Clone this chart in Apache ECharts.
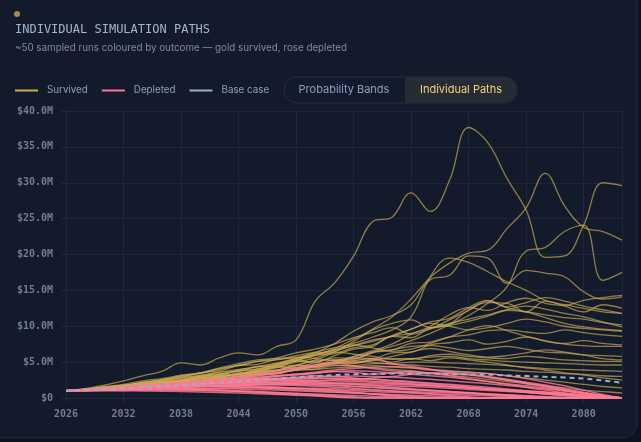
<!DOCTYPE html>
<html>
<head>
<meta charset="utf-8">
<script src="https://cdn.jsdelivr.net/npm/echarts@6/dist/echarts.min.js"></script>
<style>
  html, body { margin: 0; padding: 0; background: #0d1220; }
  #paths { width: 641px; height: 442px; }
</style>
</head>
<body>
<div id="paths"></div>
<script>
// sample years (every 2 years)
var years = [2026, 2028, 2030, 2032, 2034, 2036, 2038, 2040, 2042, 2044,
             2046, 2048, 2050, 2052, 2054, 2056, 2058, 2060, 2062, 2064,
             2066, 2068, 2070, 2072, 2074, 2076, 2078, 2080, 2082, 2084];

// portfolio value in $M, runs that survived
var survived = [
  [1.0,1.3,1.8,2.4,3.1,3.7,4.9,4.6,5.6,6.3,6.0,7.2,8.1,13.5,16.0,19.8,24.6,25.2,28.6,26.0,30.3,37.7,35.6,30.6,26.2,19.6,19.8,24.1,30.0,29.6],
  [1.0,1.1,1.25,1.45,1.65,1.9,2.15,2.4,2.7,3.0,3.4,3.9,4.5,5.3,6.4,7.9,9.6,11.3,13.8,16.8,18.8,20.2,20.6,23.6,26.5,31.3,26.8,23.8,23.2,22.0],
  [1.0,1.2,1.45,1.75,2.1,2.45,2.8,3.2,3.6,4.0,4.3,4.8,5.5,6.3,7.6,9.3,10.6,11.5,13.0,16.5,17.1,19.8,19.5,16.0,17.8,17.4,16.9,14.8,13.8,14.1],
  [1.0,1.15,1.3,1.5,1.7,1.9,2.15,2.4,2.7,3.0,3.3,3.6,4.0,4.5,5.0,5.7,6.4,7.2,8.0,9.0,10.2,11.5,13.2,15.5,20.5,21.0,23.2,24.1,16.4,17.5],
  [1.0,1.2,1.4,1.65,1.9,2.2,2.5,2.9,3.3,3.7,4.1,4.6,5.2,5.9,6.7,7.6,8.5,9.5,11.3,16.9,19.5,18.9,17.6,16.2,15.0,13.6,13.0,12.5,12.0,11.8],
  [1.0,1.15,1.35,1.5,1.8,1.9,2.3,2.5,3.0,3.2,3.9,4.2,5.3,6.0,6.9,8.2,9.5,10.4,10.9,9.8,10.3,12.3,13.3,13.2,12.0,13.5,12.8,12.0,13.0,12.5],
  [1.0,1.2,1.4,1.7,1.9,2.3,2.5,2.9,3.2,3.8,4.0,4.7,5.2,6.0,6.2,7.0,7.4,8.7,9.6,10.6,11.1,12.6,13.6,12.7,13.3,14.0,13.5,12.8,12.3,11.8],
  [1.0,1.15,1.4,1.6,1.9,2.1,2.5,2.9,3.4,3.2,3.7,4.6,5.3,5.0,5.9,6.8,7.2,8.6,8.4,9.8,10.1,10.7,11.4,12.3,12.8,12.4,11.8,11.3,10.6,9.9],
  [1.0,1.1,1.3,1.4,1.7,1.8,2.2,2.4,2.8,3.0,3.6,3.8,4.5,4.6,5.3,5.4,6.3,6.7,7.6,7.8,8.5,8.8,9.4,9.5,9.2,9.0,9.5,9.1,8.8,8.6],
  [1.0,1.2,1.3,1.6,1.8,2.2,2.3,2.8,2.9,3.5,3.6,4.3,4.2,4.9,4.8,5.6,5.5,6.3,6.4,7.4,7.7,8.1,7.5,7.9,8.5,7.9,7.6,8.0,7.6,7.4],
  [1.0,1.2,1.45,1.7,2.1,2.3,2.8,3.0,3.6,3.7,4.4,4.5,5.1,5.0,5.6,5.5,6.4,6.7,7.2,7.3,7.0,6.6,6.9,7.2,6.8,6.4,6.3,6.0,5.9,5.8],
  [1.0,1.1,1.25,1.35,1.6,1.7,2.0,2.2,2.6,2.7,3.3,3.4,4.1,4.2,4.8,4.9,5.4,5.5,5.4,5.9,6.1,5.8,5.6,5.5,5.8,5.6,5.3,5.2,5.1,5.1],
  [1.0,1.25,1.5,1.8,2.1,2.6,2.9,3.5,3.8,4.5,4.7,5.4,5.6,6.3,6.4,6.1,5.8,5.4,5.5,5.7,5.8,5.5,5.3,5.1,5.0,4.9,4.8,4.7,4.6,4.6],
  [1.0,1.1,1.3,1.4,1.7,1.8,2.1,2.2,2.6,2.8,3.3,3.4,3.9,4.0,4.5,4.5,4.8,4.8,5.0,5.0,4.9,4.8,4.7,4.5,4.3,4.1,4.0,3.9,3.8,3.7],
  [1.0,1.2,1.3,1.6,1.8,2.1,2.3,2.7,2.9,3.4,3.7,4.3,4.6,5.2,5.3,5.1,5.0,4.7,4.6,4.4,4.3,4.1,4.0,3.9,3.7,3.6,3.4,3.3,3.1,3.0],
  [1.0,1.1,1.3,1.4,1.7,1.8,2.2,2.4,2.8,3.0,3.4,3.5,3.9,4.0,4.2,4.3,4.5,4.3,4.2,4.0,3.8,3.6,3.4,3.1,2.8,2.5,2.2,1.9,1.6,1.4],
  [1.0,1.2,1.45,1.6,2.0,2.1,2.5,2.7,3.1,3.3,3.6,3.8,4.2,4.3,4.6,4.4,4.2,4.0,3.8,3.5,3.2,2.9,2.6,2.3,2.0,1.7,1.4,1.1,0.9,0.7],
  [1.0,1.1,1.25,1.35,1.55,1.7,1.95,2.1,2.5,2.7,3.1,3.4,4.0,4.4,5.1,5.8,6.6,7.5,8.9,10.0,11.6,12.6,12.2,13.3,13.9,13.2,12.9,13.6,14.0,14.3],
  [1.0,1.2,1.5,1.75,2.2,2.5,3.0,3.4,4.0,4.5,5.1,5.6,6.3,6.8,7.5,8.4,9.1,9.8,8.9,9.6,10.9,12.2,13.5,12.6,12.0,11.2,10.4,9.9,9.6,9.4],
  [1.0,1.25,1.6,1.9,2.4,2.7,3.2,3.5,4.1,4.6,5.1,5.3,5.9,6.4,7.0,7.4,7.0,6.5,6.8,7.6,8.5,9.5,10.1,9.4,8.6,8.0,7.5,7.3,7.2,7.2],
  [1.0,1.2,1.5,1.75,2.2,2.5,3.1,3.5,4.2,4.8,5.3,5.5,5.7,5.5,5.2,4.9,5.2,5.8,6.4,6.9,6.5,6.0,5.7,5.9,6.3,6.7,6.4,6.0,5.5,5.3],
  [1.0,1.1,1.35,1.5,1.8,2.0,2.4,2.7,3.1,3.4,4.0,4.4,5.0,5.6,6.5,7.3,8.1,8.6,9.6,10.4,10.0,9.5,9.8,10.4,11.0,10.6,10.0,9.7,9.5,9.3],
  [1.0,1.15,1.35,1.55,1.8,2.05,2.4,2.6,3.0,3.3,3.8,3.9,4.5,4.4,5.0,4.8,5.3,5.0,5.5,5.2,5.6,5.3,5.0,4.6,4.2,3.9,3.5,3.2,2.8,2.5],
  [1.0,1.2,1.4,1.7,1.9,2.3,2.6,3.1,3.3,3.9,4.4,4.9,5.5,6.1,6.7,7.3,7.9,8.6,9.0,9.7,10.4,11.0,11.6,12.2,12.0,11.6,11.2,11.0,10.5,10.2]
];

// runs that ran out of money
var depleted = [
  [1.0,1.1,1.25,1.4,1.6,1.8,2.0,2.2,2.5,2.8,3.1,3.5,3.9,4.4,4.9,5.2,5.5,4.8,4.4,4.0,3.6,3.3,2.9,2.5,2.0,1.6,1.1,0.7,0.3,0],
  [1.0,1.15,1.3,1.5,1.7,1.9,2.1,2.4,2.7,3.0,3.4,3.8,4.2,4.6,4.9,4.5,4.1,3.8,3.6,3.5,3.4,3.3,3.0,2.6,2.2,1.8,1.3,0.8,0.3,0],
  [1.0,1.1,1.2,1.35,1.5,1.65,1.8,2.0,2.2,2.4,2.7,3.0,3.2,3.4,3.7,3.6,3.3,3.5,3.7,3.4,3.1,2.7,2.3,1.9,1.5,1.1,0.7,0.3,0,0],
  [1.0,1.1,1.2,1.3,1.45,1.6,1.75,1.9,2.05,2.2,2.35,2.5,2.6,2.7,2.75,2.7,2.6,2.45,2.3,2.1,1.9,1.7,1.5,1.25,1.0,0.75,0.5,0.25,0.05,0],
  [1.0,1.05,1.1,1.2,1.3,1.4,1.5,1.6,1.7,1.75,1.8,1.8,1.75,1.65,1.5,1.35,1.15,0.95,0.75,0.55,0.35,0.15,0,0,0,0,0,0,0,0],
  [1.0,1.1,1.2,1.3,1.4,1.5,1.6,1.65,1.7,1.7,1.65,1.55,1.4,1.2,1.0,0.8,0.55,0.3,0.1,0,0,0,0,0,0,0,0,0,0,0],
  [1.0,1.05,1.1,1.15,1.2,1.2,1.2,1.15,1.1,1.0,0.9,0.75,0.6,0.45,0.3,0.15,0,0,0,0,0,0,0,0,0,0,0,0,0,0],
  [1.0,1.15,1.3,1.5,1.7,1.9,2.1,2.3,2.5,2.6,2.7,2.75,2.8,2.75,2.65,2.5,2.35,2.2,2.0,1.8,1.6,1.4,1.2,1.0,0.8,0.6,0.4,0.2,0.05,0],
  [1.0,1.1,1.2,1.35,1.5,1.65,1.8,1.95,2.1,2.2,2.3,2.4,2.45,2.45,2.4,2.3,2.2,2.05,1.9,1.75,1.6,1.45,1.3,1.15,1.0,0.85,0.65,0.45,0.2,0],
  [1.0,1.05,1.1,1.15,1.2,1.25,1.3,1.3,1.3,1.25,1.2,1.1,1.0,0.9,0.8,0.7,0.6,0.5,0.4,0.3,0.2,0.1,0,0,0,0,0,0,0,0],
  [1.0,1.1,1.2,1.3,1.4,1.5,1.55,1.6,1.6,1.55,1.5,1.45,1.4,1.35,1.3,1.2,1.1,1.0,0.9,0.8,0.7,0.6,0.5,0.4,0.3,0.2,0.1,0.03,0,0],
  [1.0,1.15,1.35,1.55,1.75,1.95,2.15,2.3,2.45,2.55,2.6,2.55,2.45,2.3,2.1,1.9,1.7,1.5,1.3,1.1,0.9,0.7,0.5,0.3,0.1,0,0,0,0,0],
  [1.0,1.0,1.0,1.0,0.98,0.95,0.9,0.85,0.78,0.7,0.6,0.5,0.4,0.3,0.2,0.1,0,0,0,0,0,0,0,0,0,0,0,0,0,0],
  [1.0,1.1,1.25,1.4,1.55,1.7,1.85,2.0,2.15,2.3,2.45,2.6,2.75,2.9,3.0,3.05,3.0,2.9,2.75,2.6,2.4,2.2,2.0,1.75,1.5,1.25,0.95,0.65,0.3,0],
  [1.0,1.05,1.1,1.2,1.3,1.4,1.5,1.6,1.7,1.8,1.9,2.0,2.05,2.1,2.1,2.05,2.0,1.9,1.8,1.7,1.55,1.4,1.25,1.1,0.95,0.8,0.6,0.4,0.2,0],
  [1.0,1.1,1.2,1.3,1.4,1.5,1.6,1.7,1.8,1.85,1.9,1.9,1.85,1.8,1.7,1.6,1.45,1.3,1.15,1.0,0.85,0.7,0.55,0.4,0.25,0.1,0,0,0,0],
  [1.0,1.1,1.2,1.35,1.5,1.6,1.7,1.8,1.9,2.0,2.1,2.2,2.3,2.4,2.5,2.6,2.8,3.0,3.3,3.5,3.4,3.2,2.9,2.5,2.1,1.6,1.1,0.6,0.2,0],
  [1.0,1.05,1.1,1.15,1.2,1.25,1.3,1.35,1.4,1.4,1.4,1.35,1.3,1.2,1.1,1.0,0.9,0.8,0.7,0.6,0.5,0.4,0.3,0.2,0.1,0,0,0,0,0],
  [1.0,1.15,1.3,1.45,1.6,1.75,1.9,2.0,2.1,2.15,2.2,2.2,2.15,2.1,2.0,1.9,1.8,1.7,1.6,1.5,1.35,1.2,1.05,0.9,0.75,0.6,0.45,0.3,0.15,0],
  [1.0,1.05,1.1,1.15,1.2,1.2,1.15,1.1,1.0,0.9,0.75,0.6,0.45,0.3,0.15,0,0,0,0,0,0,0,0,0,0,0,0,0,0,0],
  [1.0,1.1,1.2,1.3,1.45,1.6,1.8,2.0,2.2,2.5,2.8,3.1,3.3,3.6,3.9,4.1,4.3,4.4,4.2,3.9,3.7,3.6,3.4,3.1,2.7,2.2,1.7,1.1,0.5,0],
  [1.0,1.05,1.15,1.25,1.35,1.45,1.55,1.6,1.6,1.55,1.45,1.3,1.15,1.0,0.85,0.7,0.55,0.4,0.25,0.1,0,0,0,0,0,0,0,0,0,0],
  [1.0,1.1,1.2,1.35,1.5,1.7,1.9,2.1,2.3,2.5,2.6,2.7,2.9,3.1,3.0,2.8,2.6,2.4,2.2,2.0,1.8,1.55,1.3,1.05,0.8,0.55,0.3,0.1,0,0],
  [1.0,1.0,1.05,1.05,1.1,1.1,1.1,1.05,1.0,0.95,0.85,0.75,0.65,0.55,0.45,0.35,0.25,0.15,0.05,0,0,0,0,0,0,0,0,0,0,0],
  [1.0,1.15,1.3,1.45,1.6,1.75,1.85,1.95,2.05,2.1,2.1,2.05,2.0,1.9,1.8,1.65,1.5,1.35,1.2,1.05,0.9,0.75,0.6,0.45,0.3,0.15,0.05,0,0,0],
  [1.0,1.1,1.25,1.4,1.55,1.75,1.95,2.2,2.45,2.7,2.9,3.1,3.3,3.5,3.7,3.8,3.7,3.5,3.3,3.1,2.9,2.6,2.3,2.0,1.7,1.4,1.05,0.7,0.35,0]
];

// deterministic base case
var baseCase = [1.0,1.1,1.2,1.35,1.5,1.65,1.8,1.95,2.1,2.3,2.5,2.7,2.9,3.05,3.2,3.3,3.35,3.4,3.4,3.4,3.35,3.3,3.25,3.15,3.05,2.95,2.85,2.7,2.45,2.1];

var legendNames = ['Survived', 'Depleted', 'Base case'];
var viewModes = ['Probability Bands', 'Individual Paths'];

var GOLD = '#cdac52';
var ROSE = '#ff7a92';
var BASE = '#9db0ca';
var MONO = '"DejaVu Sans Mono", monospace';

var chart = echarts.init(document.getElementById('paths'));

function toPairs(vals) {
  return years.map(function (y, i) { return [y, vals[i]]; });
}

var series = [];
survived.forEach(function (p) {
  series.push({
    name: 'Survived', type: 'line', data: toPairs(p),
    symbol: 'none', smooth: 0.4, silent: true,
    lineStyle: { color: GOLD, width: 1.3, opacity: 0.68 }
  });
});
depleted.forEach(function (p) {
  series.push({
    name: 'Depleted', type: 'line', data: toPairs(p),
    symbol: 'none', smooth: 0.4, silent: true,
    lineStyle: { color: ROSE, width: 1.5, opacity: 0.8 }
  });
});
series.push({
  name: 'Base case', type: 'line', data: toPairs(baseCase),
  symbol: 'none', smooth: 0.4, silent: true, z: 5,
  lineStyle: { color: BASE, width: 2, type: [5, 4], opacity: 1 }
});

var option = {
  backgroundColor: 'transparent',
  animation: false,
  graphic: [
    { type: 'rect', z: -10, shape: { x: -20, y: -20, width: 657, height: 458, r: 14 },
      style: { fill: '#131a2b', stroke: '#222b3c', lineWidth: 1 } },
    { type: 'circle', shape: { cx: 17, cy: 14, r: 3 }, style: { fill: '#a68b4b' } },
    { type: 'text', x: 15, y: 24,
      style: { text: 'INDIVIDUAL SIMULATION PATHS', fill: '#a5b5ce', font: '12px ' + MONO } },
    { type: 'text', x: 15, y: 43.5,
      style: { text: '~50 sampled runs coloured by outcome \u2014 gold survived, rose depleted',
               fill: '#7e8aa2', font: '9.8px Inter' } },
    { type: 'group', x: 284, y: 77, children: [
      { type: 'rect', shape: { x: 0, y: 0, width: 233, height: 26, r: 13 },
        style: { fill: '#131a2b', stroke: '#262f42', lineWidth: 1 } },
      { type: 'rect', shape: { x: 121, y: 0.5, width: 111.5, height: 25, r: [0, 12.5, 12.5, 0] },
        style: { fill: '#272b34' } },
      { type: 'text', x: 60, y: 13,
        style: { text: viewModes[0], fill: '#8ba0c0', font: '11px Inter', align: 'center', verticalAlign: 'middle' } },
      { type: 'text', x: 177, y: 13,
        style: { text: viewModes[1], fill: '#f2d27c', font: '11px Inter', align: 'center', verticalAlign: 'middle' } }
    ] }
  ],
  legend: {
    left: 15, top: 85.5, padding: 0, icon: 'rect', itemWidth: 23, itemHeight: 2, itemGap: 14,
    selectedMode: false,
    textStyle: { color: '#8ba0c0', fontSize: 9.8, fontFamily: 'Inter', padding: [0, 0, 0, 4] },
    data: [
      { name: legendNames[0], itemStyle: { color: GOLD } },
      { name: legendNames[1], itemStyle: { color: ROSE } },
      { name: legendNames[2], itemStyle: { color: BASE } }
    ]
  },
  grid: { left: 66, right: 19, top: 111, bottom: 44 },
  xAxis: {
    type: 'value', min: 2026, max: 2084, interval: 6,
    axisLine: { show: false },
    axisTick: { show: true, length: 4, lineStyle: { color: '#252e40' } },
    splitLine: { show: true, lineStyle: { color: '#1e2637', width: 1 } },
    axisLabel: {
      color: '#737d91', fontFamily: MONO, fontSize: 10, fontWeight: 'bold', margin: 11,
      showMaxLabel: false,
      formatter: function (v) { return String(v); }
    }
  },
  yAxis: {
    type: 'value', min: 0, max: 40, interval: 5,
    axisLine: { show: false },
    axisTick: { show: true, length: 4, lineStyle: { color: '#252e40' } },
    splitLine: { show: true, lineStyle: { color: '#1e2637', width: 1 } },
    axisLabel: {
      color: '#737d91', fontFamily: MONO, fontSize: 10, fontWeight: 'bold', margin: 13,
      formatter: function (v) { return v === 0 ? '$0' : '$' + v.toFixed(1) + 'M'; }
    }
  },
  series: series
};

chart.setOption(option);
</script>
</body>
</html>
